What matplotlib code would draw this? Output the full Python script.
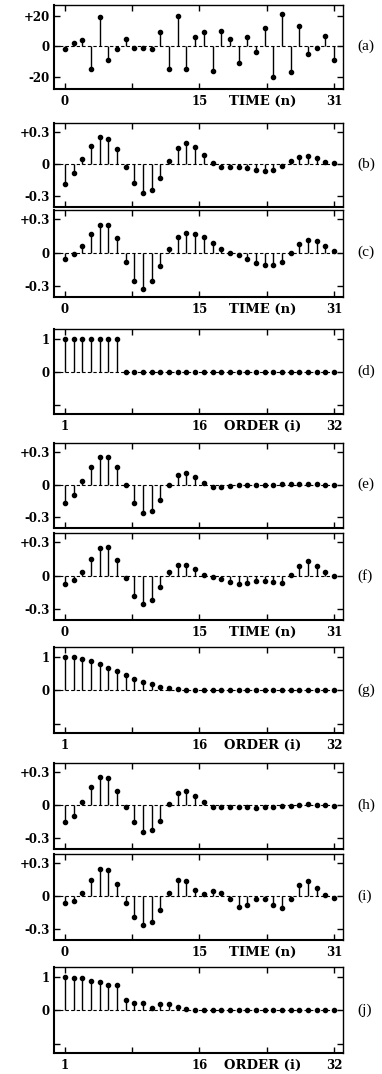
import numpy as np
import matplotlib.pyplot as plt

# sample index for all panels (time n = 0..31, order i = 1..32)
n = np.arange(32)

sig_a = [-2, 2, 4, -15, 19, -9, -2, 5, -1, -1, -2, 9, -15, 20, -15, 6,
         9, -16, 10, 5, -11, 6, -4, 12, -20, 21, -17, 13, -5, -1, 7, -9]

sig_b = [-0.185, -0.08, 0.045, 0.17, 0.25, 0.24, 0.14, -0.025, -0.18, -0.27, -0.24, -0.125, 0.03, 0.15, 0.2, 0.16,
         0.085, 0.015, -0.025, -0.03, -0.03, -0.04, -0.055, -0.065, -0.055, -0.015, 0.03, 0.07, 0.075, 0.06, 0.025, 0.015]

sig_c = [-0.055, -0.01, 0.06, 0.165, 0.25, 0.25, 0.13, -0.08, -0.255, -0.33, -0.26, -0.12, 0.035, 0.14, 0.18, 0.17,
         0.14, 0.085, 0.035, 0.0, -0.025, -0.055, -0.09, -0.11, -0.115, -0.08, 0.0, 0.075, 0.115, 0.105, 0.06, 0.015]

ord_d = [1, 1, 1, 1, 1, 1, 1] + [0] * 25

sig_e = [-0.165, -0.095, 0.03, 0.16, 0.255, 0.255, 0.16, 0.0, -0.17, -0.265, -0.24, -0.14, 0.0, 0.09, 0.105, 0.07,
         0.02, -0.02, -0.025, -0.01, -0.005, 0.0, 0.0, 0.0, 0.0, 0.005, 0.005, 0.005, 0.005, 0.005, 0.0, 0.0]

sig_f = [-0.075, -0.04, 0.035, 0.15, 0.25, 0.26, 0.145, -0.025, -0.185, -0.255, -0.22, -0.1, 0.03, 0.1, 0.1, 0.06,
         0.01, -0.015, -0.03, -0.06, -0.075, -0.07, -0.05, -0.05, -0.06, -0.065, 0.01, 0.085, 0.13, 0.09, 0.03, 0.0]

ord_g = [0.99, 0.98, 0.94, 0.88, 0.79, 0.67, 0.56, 0.46, 0.33, 0.23, 0.17, 0.1, 0.05, 0.03, 0.01, 0.01,
         0.01, 0.01, 0.01, 0.01, 0.01, 0.01, 0.01, 0.01, 0.01, 0.01, 0.01, 0.01, 0.01, 0.01, 0.01, 0.01]

sig_h = [-0.15, -0.1, 0.03, 0.17, 0.26, 0.245, 0.13, -0.02, -0.155, -0.245, -0.23, -0.14, 0.01, 0.11, 0.13, 0.085,
         0.025, -0.02, -0.02, -0.02, -0.02, -0.02, -0.025, -0.02, -0.015, -0.01, -0.005, 0.005, 0.01, 0.005, 0.0, -0.005]

sig_i = [-0.06, -0.045, 0.025, 0.145, 0.25, 0.24, 0.11, -0.06, -0.19, -0.26, -0.24, -0.125, 0.03, 0.145, 0.135, 0.06,
         0.02, 0.045, 0.03, -0.03, -0.1, -0.085, -0.025, -0.03, -0.085, -0.105, -0.025, 0.1, 0.135, 0.075, 0.01, -0.015]

ord_j = [1.0, 0.96, 0.96, 0.86, 0.83, 0.74, 0.74, 0.29, 0.2, 0.2, 0.05, 0.17, 0.18, 0.08, 0.03, 0.01,
         0.01, 0.01, 0.01, 0.01, 0.01, 0.01, 0.01, 0.01, 0.01, 0.01, 0.01, 0.01, 0.01, 0.01, 0.01, 0.01]

# (name, values, kind, show x labels)
panels = [
    ('(a)', sig_a, 'big', True),
    ('(b)', sig_b, 'small', False),
    ('(c)', sig_c, 'small', True),
    ('(d)', ord_d, 'order', True),
    ('(e)', sig_e, 'small', False),
    ('(f)', sig_f, 'small', True),
    ('(g)', ord_g, 'order', True),
    ('(h)', sig_h, 'small', False),
    ('(i)', sig_i, 'small', True),
    ('(j)', ord_j, 'order', True),
]

# pixel rows (top, bottom) of each axes box
rows = [(5, 89), (123, 207), (210, 297), (329, 414), (443, 528),
        (533, 620), (647, 733), (763, 849), (854, 940), (967, 1053)]

W, H = 382, 1074
fig = plt.figure(figsize=(W / 100, H / 100), dpi=100)

tick_font = dict(family='DejaVu Serif', weight='bold', size=8.5)
XPAD = 4

for (name, vals, kind, xlab), (top, bot) in zip(panels, rows):
    ax = fig.add_axes([54 / W, 1 - bot / H, 289 / W, (bot - top) / H])
    vals = np.array(vals)

    ax.axhline(0, color='k', lw=0.8, ls=(0, (3, 2)), zorder=1)
    ml, sl, bl = ax.stem(n, vals, linefmt='k-', markerfmt='ko', basefmt=' ')
    plt.setp(sl, linewidth=1.0)
    plt.setp(ml, markersize=3.0)

    ax.set_xlim(-1.27, 32.04)
    if kind == 'big':
        ax.set_ylim(-28, 27)
        ax.set_yticks([-20, 0, 20])
        ax.set_yticklabels(['-20', '0', '+20'], **tick_font)
    elif kind == 'small':
        ax.set_ylim(-0.40, 0.385)
        ax.set_yticks([-0.3, 0, 0.3])
        ax.set_yticklabels(['-0.3', '0', '+0.3'], **tick_font)
    else:
        ax.set_ylim(-1.28, 1.29)
        ax.set_yticks([-1, 0, 1])
        ax.set_yticklabels(['', '0', '1'], **tick_font)

    ax.set_xticks([0, 7.75, 15.5, 23.25, 31])
    if xlab:
        if kind == 'order':
            labs = ['1', '', '16', '', '32']
            title = 'ORDER (i)'
        else:
            labs = ['0', '', '15', '', '31']
            title = 'TIME (n)'
        ax.set_xticklabels(labs, **tick_font)
        ax.annotate(title, xy=(22.8, 0), xycoords=('data', 'axes fraction'),
                    xytext=(0, -XPAD), textcoords='offset points',
                    ha='center', va='top', family='DejaVu Serif',
                    weight='bold', size=9.5)
    else:
        ax.set_xticklabels([])

    ax.tick_params(direction='in', length=4, width=1, top=True, right=True,
                   colors='k')
    ax.tick_params(axis='x', pad=XPAD)
    ax.tick_params(axis='y', pad=3)
    for side in ['left', 'bottom']:
        ax.spines[side].set_linewidth(1.5)
    for side in ['top', 'right']:
        ax.spines[side].set_linewidth(1.0)

    ax.text(1.05, 0, name, transform=ax.get_yaxis_transform(),
            ha='left', va='center', family='Liberation Serif', size=11)

fig.savefig('out.png', dpi=100)
